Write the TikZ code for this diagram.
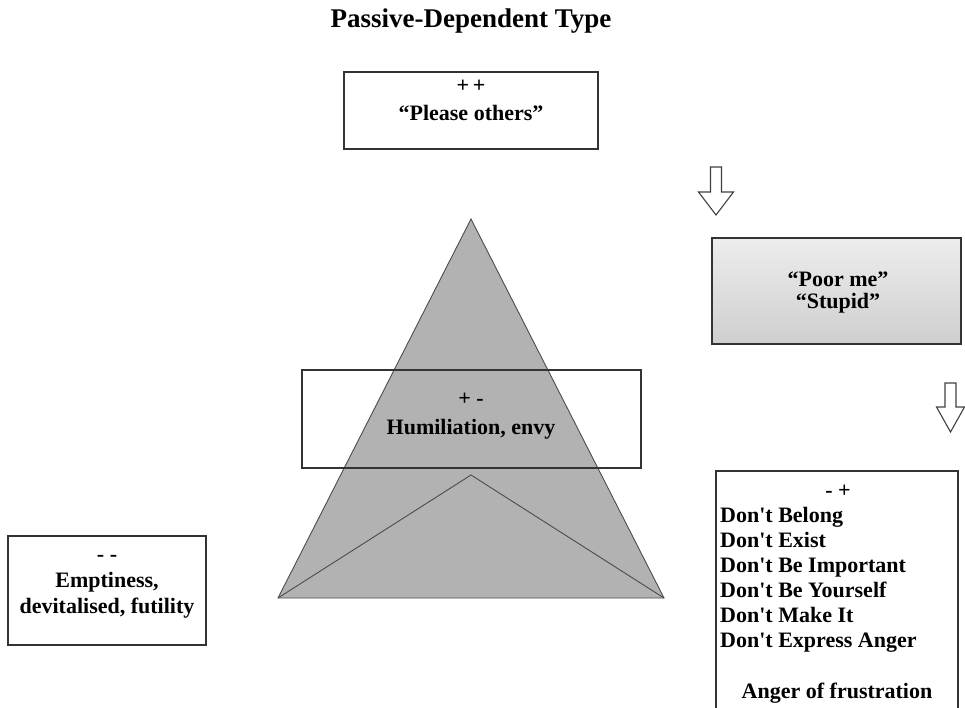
\documentclass[tikz,border=0pt]{standalone}
\usepackage{fontspec}
\setmainfont{Liberation Serif}[Ligatures=TeXOff]
\definecolor{trigrey}{HTML}{B2B2B2}
\definecolor{linegrey}{HTML}{333333}
\begin{document}
\begin{tikzpicture}[x=1pt,y=-1pt,
  box/.style={draw=linegrey, line width=1.4pt, inner sep=0pt},
  txt/.style={font=\bfseries\fontsize{22}{26}\selectfont, inner sep=0pt, anchor=base},
  blockarrow/.style={draw=black!75, line width=1.1pt, fill=white, line join=miter},
  tri/.style={fill=trigrey, draw=black!70, line width=0.9pt, line join=miter}]
\useasboundingbox (0,0) rectangle (965,708);

% title
\node[txt, font=\bfseries\fontsize{27}{30}\selectfont] (title) at (471,28) {Passive-Dependent Type};

% triangle
\coordinate (apex) at (471,219);
\coordinate (bl) at (278,598);
\coordinate (br) at (664,598);
\coordinate (inner) at (471,475);
\filldraw[tri] (apex) -- (br) -- (bl) -- cycle;
\draw[black!70, line width=0.9pt] (bl) -- (inner) -- (br);

% top box
\node[box, minimum width=254, minimum height=77] (please) at (471,110.5) {};
\node[txt] (pp) at (471,93) {+\,+};
\node[txt] (pleasetxt) at (471,121) {“Please others”};

% middle box (transparent over triangle)
\node[box, minimum width=339, minimum height=98] (humil) at (471.5,419) {};
\node[txt] (pm) at (471,405) {+ -};
\node[txt] (humiltxt) at (471,434) {Humiliation, envy};

% poor me box
\node[box, minimum width=249, minimum height=106, shading=axis,
      top color=gray!14, middle color=white, bottom color=gray!38] (poor) at (836.5,291) {};
\node[txt] (poortxt) at (838,287) {“Poor me”};
\node[txt] (stupidtxt) at (838,308) {“Stupid”};

% left box
\node[box, minimum width=198, minimum height=109] (empty) at (107,590.5) {};
\node[txt] (mm) at (107,561) {- -};
\node[txt] (emptytxt) at (107,587) {Emptiness,};
\node[txt] (devtxt) at (107,613) {devitalised, futility};

% bottom right box (runs off the page)
\node[box, minimum width=242, minimum height=270] (dont) at (837,606) {};
\node[txt] (mp) at (838,497) {- +};
\node[txt, anchor=base west] (d1) at (720,522) {Don't Belong};
\node[txt, anchor=base west] (d2) at (720,547) {Don't Exist};
\node[txt, anchor=base west] (d3) at (720,572) {Don't Be Important};
\node[txt, anchor=base west] (d4) at (720,597) {Don't Be Yourself};
\node[txt, anchor=base west] (d5) at (720,622) {Don't Make It};
\node[txt, anchor=base west] (d6) at (720,647) {Don't Express Anger};
\node[txt] (anger) at (837,698) {Anger of frustration};

% block arrows
\filldraw[blockarrow] (710.5,167) -- (721.5,167) -- (721.5,192) -- (733.5,192)
  -- (716,215) -- (698.5,192) -- (710.5,192) -- cycle;
\filldraw[blockarrow] (945,383) -- (956,383) -- (956,407) -- (964.5,407)
  -- (950.5,432) -- (936.5,407) -- (945,407) -- cycle;
\end{tikzpicture}
\end{document}
